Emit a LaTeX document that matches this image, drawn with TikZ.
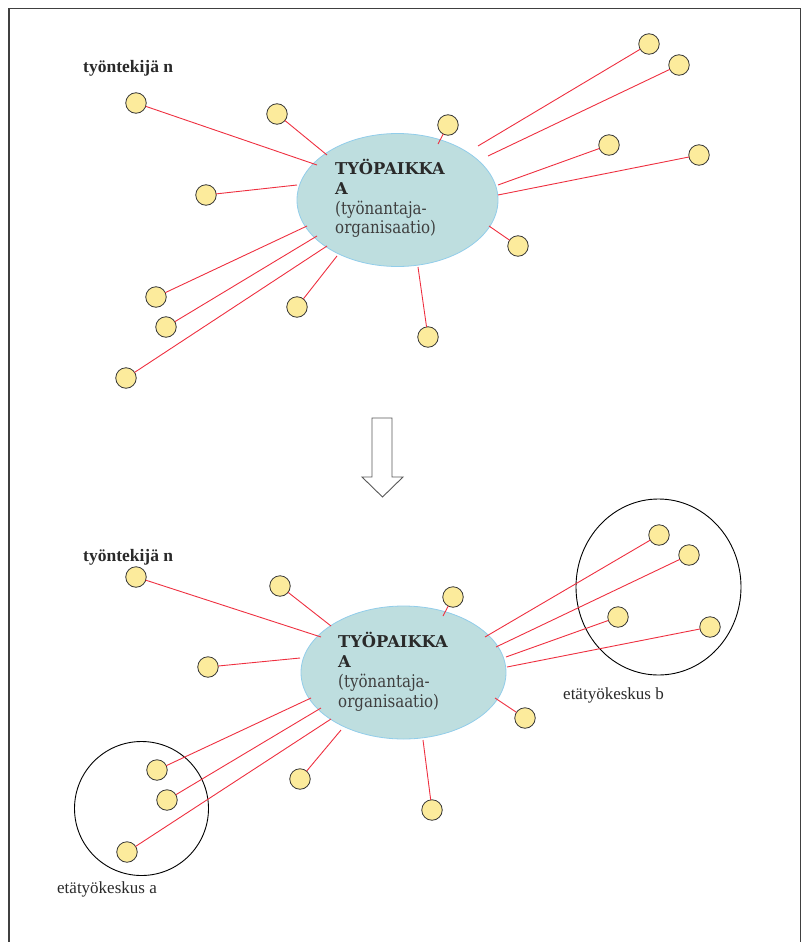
\documentclass[tikz,border=0pt]{standalone}
\usepackage{fontspec}
\setmainfont{Liberation Serif}
\newfontfamily\slab{DejaVu Serif}
\newfontfamily\slabn[FakeStretch=0.86]{DejaVu Serif}
\usetikzlibrary{shapes.geometric}
\definecolor{dotfill}{HTML}{FCEB9C}
\definecolor{ellfill}{HTML}{BEDEDF}
\definecolor{elldraw}{HTML}{92CDEA}
\definecolor{linkred}{HTML}{EE3040}
\definecolor{txt}{HTML}{2A2A2A}
\begin{document}
\begin{tikzpicture}[x=1pt,y=-1pt,
  dot/.style={circle,draw=black!80,fill=dotfill,line width=0.8pt,minimum size=20.5pt,inner sep=0pt,outer sep=0pt},
  work/.style={ellipse,draw=elldraw,fill=ellfill,line width=0.8pt,inner sep=0pt,outer sep=0pt,minimum width=201pt,minimum height=133pt},
  link/.style={draw=linkred,line width=0.9pt},
  hub/.style={ellipse,draw=black,line width=0.9pt,inner sep=0pt,outer sep=0pt},
  lab/.style={inner sep=0pt,anchor=base west,text=txt,font=\fontsize{17}{17}\selectfont},
  blab/.style={lab,font=\bfseries\fontsize{17.5}{17.5}\selectfont},
  wtitle/.style={inner sep=0pt,anchor=base west,text=txt,font=\slab\bfseries\fontsize{16.3}{16.3}\selectfont},
  wsub/.style={inner sep=0pt,anchor=base west,text=txt!90,font=\slabn\fontsize{17.5}{17.5}\selectfont},
  frame/.style={draw=black!75,line width=1.3pt},
  bigarrow/.style={draw=black!65,line width=0.9pt,fill=white}
]
\useasboundingbox (0,0) rectangle (806,942);
\draw[frame] (9,942) -- (9,8.5) -- (800.5,8.5) -- (800.5,942);

% ---------- top diagram ----------
\node[work] (wa) at (397.5,200) {};
\node[wtitle] (wa1) at (335,174) {TYÖPAIKKA};
\node[wtitle] (wa2) at (335,194) {A};
\node[wsub] (wa3) at (335,214) {(työnantaja-};
\node[wsub] (wa4) at (335,233) {organisaatio)};
\node[blab] (na) at (83,73) {työntekijä n};

\node[dot] (c1) at (136,103) {};
\node[dot] (c2) at (277,114) {};
\node[dot] (c3) at (448,125) {};
\node[dot] (c4) at (649,44) {};
\node[dot] (c5) at (679,65) {};
\node[dot] (c6) at (609,145) {};
\node[dot] (c7) at (699,155) {};
\node[dot] (c8) at (206,195) {};
\node[dot] (c9) at (518,246) {};
\node[dot] (c10) at (156,297) {};
\node[dot] (c11) at (166,327) {};
\node[dot] (c12) at (297,307) {};
\node[dot] (c13) at (428,337) {};
\node[dot] (c14) at (126,378) {};

\coordinate (e1) at (317,165);
\coordinate (e2) at (327,155);
\coordinate (e3) at (438,144);
\coordinate (e4) at (478,146);
\coordinate (e5) at (488,156);
\coordinate (e6) at (498,185);
\coordinate (e7) at (498,195);
\coordinate (e8) at (297,185);
\coordinate (e9) at (489,226);
\coordinate (e10) at (307,226);
\coordinate (e11) at (317,236);
\coordinate (e12) at (337,256);
\coordinate (e13) at (418,267);
\coordinate (e14) at (327,246);
\foreach \i in {1,...,14}{\draw[link] (c\i) -- (e\i);}

% ---------- arrow ----------
\draw[bigarrow] (372,418) -- (392,418) -- (392,477) -- (403,477) -- (382.5,497) -- (362,477) -- (372,477) -- cycle;

% ---------- bottom diagram ----------
\node[hub,minimum width=165pt,minimum height=176pt] (hb) at (658.5,587) {};
\node[hub,minimum width=134pt,minimum height=134pt] (ha) at (141.5,808.5) {};
\node[lab] (lb) at (563,699) {etätyökeskus b};
\node[lab] (la) at (57,893) {etätyökeskus a};

\node[work,minimum width=205pt,minimum height=133pt] (wb) at (403.5,672.5) {};
\node[wtitle] (wb1) at (338,647) {TYÖPAIKKA};
\node[wtitle] (wb2) at (338,667) {A};
\node[wsub] (wb3) at (338,687) {(työnantaja-};
\node[wsub] (wb4) at (338,707) {organisaatio)};
\node[blab] (nb) at (83,561) {työntekijä n};

\node[dot] (d1) at (136,577) {};
\node[dot] (d2) at (280,586) {};
\node[dot] (d3) at (453,597) {};
\node[dot] (d4) at (659,535) {};
\node[dot] (d5) at (689,555) {};
\node[dot] (d6) at (618,617) {};
\node[dot] (d7) at (710,627) {};
\node[dot] (d8) at (208,667) {};
\node[dot] (d9) at (525,718) {};
\node[dot] (d10) at (157,770) {};
\node[dot] (d11) at (167,800) {};
\node[dot] (d12) at (300,779) {};
\node[dot] (d13) at (432,810) {};
\node[dot] (d14) at (127,852) {};

\coordinate (f1) at (321,637);
\coordinate (f2) at (331,626);
\coordinate (f3) at (443,616);
\coordinate (f4) at (485,637);
\coordinate (f5) at (496,647);
\coordinate (f6) at (506,657);
\coordinate (f7) at (507,667);
\coordinate (f8) at (300,658);
\coordinate (f9) at (495,698);
\coordinate (f10) at (311,698);
\coordinate (f11) at (321,708);
\coordinate (f12) at (341,730);
\coordinate (f13) at (423,740);
\coordinate (f14) at (331,719);
\foreach \i in {1,...,14}{\draw[link] (d\i) -- (f\i);}
\end{tikzpicture}
\end{document}
